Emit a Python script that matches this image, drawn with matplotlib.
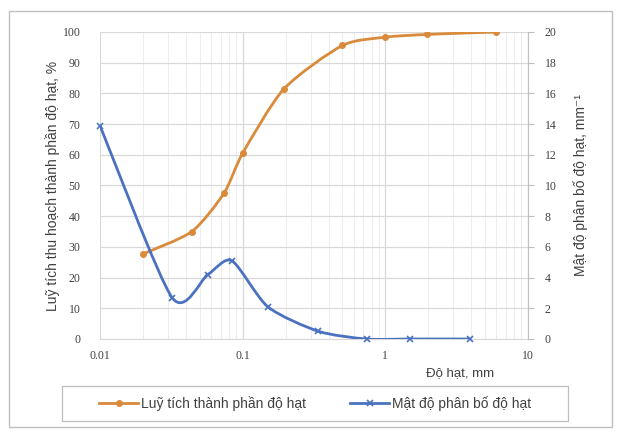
import numpy as np
import matplotlib
matplotlib.use('Agg')
import matplotlib.pyplot as plt
from matplotlib.path import Path
from matplotlib.patches import PathPatch, Rectangle
from matplotlib.lines import Line2D
from matplotlib.ticker import FixedLocator, NullFormatter

# cumulative passing (%), left axis
size_cum = [0.02, 0.044, 0.074, 0.1, 0.195, 0.5, 1.0, 1.95, 6.0]
cum_pct = [27.7, 35.0, 47.5, 60.5, 81.5, 95.6, 98.3, 99.2, 100.0]

# density (mm^-1), right axis
size_den = [0.01, 0.032, 0.057, 0.084, 0.15, 0.34, 0.74, 1.5, 3.9]
density = [13.9, 2.7, 4.2, 5.1, 2.1, 0.5, 0.0, 0.0, 0.0]

orange = '#D98A3A'
blue = '#4A72C0'
text_col = '#404040'
grid_col = '#D9D9D9'
serif = 'Liberation Serif'
sans = ['Liberation Sans', 'DejaVu Sans']


def smooth_path(xs, ys, k=8.0):
    # Excel-like smoothed line: Catmull-Rom -> cubic Bezier in log-x space
    pts = np.column_stack([np.log10(xs), ys])
    n = len(pts)
    verts = [pts[0]]
    codes = [Path.MOVETO]
    for i in range(n - 1):
        p0 = pts[max(i - 1, 0)]
        p1 = pts[i]
        p2 = pts[i + 1]
        p3 = pts[min(i + 2, n - 1)]
        verts += [p1 + (p2 - p0) / k, p2 - (p3 - p1) / k, p2]
        codes += [Path.CURVE4] * 3
    verts = np.array(verts)
    verts[:, 0] = 10 ** verts[:, 0]
    return Path(verts, codes)


fig = plt.figure(figsize=(6.18, 4.34), dpi=100)
fig.patches.append(Rectangle((0.015, 0.015), 0.975, 0.96, transform=fig.transFigure,
                             fill=False, edgecolor='#BFBFBF', lw=1.0))
# legend box
fig.patches.append(Rectangle((0.1003, 0.030), 0.8187, 0.081, transform=fig.transFigure,
                             fill=False, edgecolor='#BFBFBF', lw=0.9))

ax = fig.add_axes([0.1618, 0.2189, 0.6926, 0.7074])
ax2 = ax.twinx()

ax.set_xscale('log')
ax.set_xlim(0.01, 10)
ax.set_ylim(0, 100)
ax2.set_ylim(0, 20)

ax.set_yticks(np.arange(0, 101, 10))
ax2.set_yticks(np.arange(0, 21, 2))
ax.xaxis.set_major_locator(FixedLocator([0.01, 0.1, 1, 10]))
minors = [m * 10.0 ** e for e in (-2, -1, 0) for m in range(2, 10)]
ax.xaxis.set_minor_locator(FixedLocator(minors))
ax.xaxis.set_minor_formatter(NullFormatter())
ax.set_xticklabels(['0.01', '0.1', '1', '10'])

ax.grid(True, which='major', color=grid_col, lw=0.9)
ax.grid(True, which='minor', axis='x', color='#EDEDED', lw=0.7)
ax.set_axisbelow(True)

for a in (ax, ax2):
    for s in a.spines.values():
        s.set_visible(False)
ax2.spines['right'].set_visible(True)
ax2.spines['right'].set_color('#BFBFBF')
ax.spines['bottom'].set_visible(True)
ax.spines['bottom'].set_color('#D9D9D9')

ax.tick_params(axis='y', length=0, labelsize=8.5, labelcolor=text_col, pad=14)
ax.tick_params(axis='x', which='both', length=0, labelsize=8.5, labelcolor=text_col, pad=8)
ax2.tick_params(axis='y', length=4, color='#BFBFBF', labelsize=8.5, labelcolor=text_col, pad=8)
for lab in ax.get_xticklabels() + ax.get_yticklabels() + ax2.get_yticklabels():
    lab.set_fontfamily(serif)

ax.add_patch(PathPatch(smooth_path(size_cum, cum_pct), fill=False,
                       edgecolor=orange, lw=2, zorder=3))
ax.plot(size_cum, cum_pct, 'o', color=orange, ms=4, zorder=4)
ax2.add_patch(PathPatch(smooth_path(size_den, density), fill=False,
                        edgecolor=blue, lw=2, zorder=3))
ax2.plot(size_den, density, 'x', color=blue, ms=5, mew=1.2, zorder=4, clip_on=False)

ax.set_ylabel('Luỹ tích thu hoạch thành phần độ hạt, %', fontsize=10,
              fontfamily=sans, color=text_col, labelpad=2)
ax2.set_ylabel('Mật độ phân bố độ hạt, mm⁻¹', fontsize=10,
               fontfamily=sans, color=text_col, labelpad=12)
fig.text(0.745, 0.14, 'Độ hạt, mm', fontsize=9.5, fontfamily=sans,
         color=text_col, ha='center', va='center')

handles = [Line2D([], [], color=orange, lw=2, marker='o', ms=4),
           Line2D([], [], color=blue, lw=2, marker='x', ms=5, mew=1.2)]
leg = fig.legend(handles, ['Luỹ tích thành phần độ hạt', 'Mật độ phân bố độ hạt'],
                 loc='center', bbox_to_anchor=(0.51, 0.070), ncol=2,
                 frameon=False, prop={'family': sans, 'size': 10},
                 handlelength=2.8, handletextpad=0.2, columnspacing=3.2)
for t in leg.get_texts():
    t.set_color(text_col)

fig.savefig('out.png', dpi=100)
